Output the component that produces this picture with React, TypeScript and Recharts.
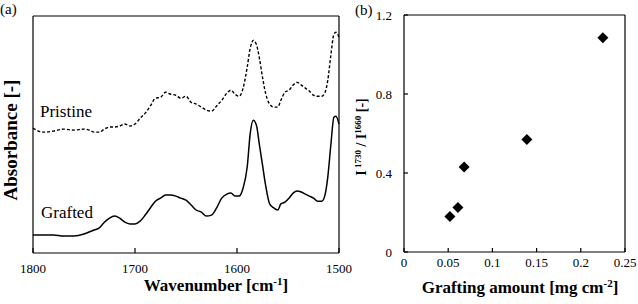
import { Line, LineChart, Scatter, ScatterChart, XAxis, YAxis } from 'recharts'

// (a) FTIR spectra, wavenumber [cm-1] against absorbance (arbitrary offset units)
const wavenumbers = [
  1800, 1790, 1780, 1770, 1760, 1750, 1745, 1740, 1735, 1730, 1725, 1720, 1715, 1710, 1705, 1700,
  1695, 1690, 1685, 1680, 1675, 1670, 1665, 1660, 1655, 1650, 1645, 1640, 1635, 1630, 1625, 1620,
  1615, 1610, 1606, 1602, 1598, 1594, 1590, 1587, 1584, 1581, 1578, 1575, 1572, 1568, 1564, 1560,
  1557, 1553, 1549, 1545, 1541, 1537, 1533, 1529, 1525, 1521, 1517, 1514, 1511, 1508, 1505, 1503, 1500
]
const pristine = [
  3.69, 3.57, 3.6, 3.66, 3.63, 3.66, 3.63, 3.57, 3.57, 3.66, 3.72, 3.72, 3.75, 3.81, 3.75, 3.81,
  3.98, 4.13, 4.34, 4.57, 4.6, 4.75, 4.69, 4.66, 4.57, 4.63, 4.45, 4.4, 4.31, 4.22, 4.19, 4.34,
  4.51, 4.72, 4.81, 4.69, 4.63, 4.87, 5.49, 6.05, 6.28, 6.16, 5.75, 5.19, 4.72, 4.4, 4.31, 4.31,
  4.51, 4.75, 4.81, 4.96, 5.04, 4.96, 4.87, 4.78, 4.66, 4.63, 4.63, 4.72, 5.1, 5.84, 6.46, 6.52, 6.37
]
const grafted = [
  0.53, 0.53, 0.53, 0.5, 0.5, 0.56, 0.62, 0.68, 0.74, 0.91, 1.03, 1.09, 1.03, 0.91, 0.86, 0.86,
  0.94, 1.12, 1.33, 1.53, 1.62, 1.71, 1.71, 1.68, 1.62, 1.56, 1.42, 1.27, 1.21, 1.09, 1.12, 1.33,
  1.62, 1.74, 1.77, 1.68, 1.68, 1.92, 2.54, 3.54, 3.92, 3.78, 3.19, 2.6, 2.01, 1.45, 1.33, 1.27,
  1.45, 1.5, 1.62, 1.77, 1.83, 1.8, 1.74, 1.68, 1.62, 1.53, 1.53, 1.68, 2.24, 3.19, 4.01, 4.04, 3.81
]
const wnTicks = [1800, 1700, 1600, 1500]
const absTicks = [0, 1, 2, 3, 4, 5, 6, 7]

// (b) peak intensity ratio against grafting amount
const graftingAmount = [0.052, 0.061, 0.068, 0.139, 0.225]
const intensityRatio = [0.18, 0.225, 0.43, 0.57, 1.085]
const amountTicks = [0, 0.05, 0.1, 0.15, 0.2, 0.25]
const ratioTicks = [0, 0.4, 0.8, 1.2]

const font = '"Liberation Serif", "Times New Roman", serif'
const axisStyle = { stroke: '#000', strokeWidth: 1.2 }
const tickStyle = { fill: '#000', fontSize: 13, fontFamily: font }

const spectra = wavenumbers.map((wn, i) => ({ wn, pristine: pristine[i], grafted: grafted[i] }))
const points = graftingAmount.map((x, i) => ({ x, y: intensityRatio[i] }))

const Diamond = (props: any) => {
  const { cx, cy } = props
  const r = 5.5
  return <polygon points={`${cx},${cy - r} ${cx + r},${cy} ${cx},${cy + r} ${cx - r},${cy}`} fill="#000" />
}

export default function App() {
  return (
    <div style={{ position: 'absolute', left: 0, top: 0, width: 638, height: 304, background: '#fff', fontFamily: font }}>
      <div style={{ position: 'absolute', left: 0, top: 0 }}>
        <LineChart width={360} height={304} data={spectra} margin={{ top: 15, right: 20, left: 32, bottom: 0 }}>
          <XAxis
            dataKey="wn"
            type="number"
            domain={[1500, 1800]}
            ticks={wnTicks}
            reversed
            height={51}
            tickSize={-5}
            tickMargin={16}
            axisLine={axisStyle}
            tickLine={axisStyle}
            tick={tickStyle}
          />
          <XAxis xAxisId="top" orientation="top" height={1} tick={false} tickLine={false} axisLine={axisStyle} />
          <YAxis
            type="number"
            domain={[0, 7]}
            ticks={absTicks}
            width={1}
            tick={false}
            tickSize={-5}
            axisLine={axisStyle}
            tickLine={axisStyle}
          />
          <YAxis yAxisId="right" orientation="right" width={1} tick={false} tickLine={false} axisLine={axisStyle} />
          <Line dataKey="pristine" type="monotone" stroke="#000" strokeWidth={1.4} strokeDasharray="3 2" dot={false} isAnimationActive={false} />
          <Line dataKey="grafted" type="monotone" stroke="#000" strokeWidth={1.5} dot={false} isAnimationActive={false} />
          <text x={0} y={14} fontSize={15} fontFamily={font}>(a)</text>
          <text x={40} y={117} fontSize={17} fontFamily={font}>Pristine</text>
          <text x={41} y={218} fontSize={17} fontFamily={font}>Grafted</text>
          <text x={216} y={291} fontSize={17} fontWeight="bold" textAnchor="middle" fontFamily={font}>
            Wavenumber [cm<tspan dy={-6} fontSize={11}>-1</tspan><tspan dy={6}>]</tspan>
          </text>
          <text x={17} y={140} fontSize={19} fontWeight="bold" textAnchor="middle" fontFamily={font} transform="rotate(-90 17 140)">
            Absorbance [-]
          </text>
        </LineChart>
      </div>
      <div style={{ position: 'absolute', left: 340, top: 0 }}>
        <ScatterChart width={298} height={304} margin={{ top: 14, right: 12, left: 63, bottom: 0 }}>
          <XAxis
            dataKey="x"
            type="number"
            domain={[0, 0.25]}
            ticks={amountTicks}
            height={52}
            tickSize={-4}
            tickMargin={10}
            axisLine={axisStyle}
            tickLine={axisStyle}
            tick={tickStyle}
          />
          <XAxis xAxisId="top" orientation="top" height={1} tick={false} tickLine={false} axisLine={axisStyle} />
          <YAxis
            dataKey="y"
            type="number"
            domain={[0, 1.2]}
            ticks={ratioTicks}
            width={1}
            tickSize={-4}
            tickMargin={16}
            axisLine={axisStyle}
            tickLine={axisStyle}
            tick={tickStyle}
          />
          <YAxis yAxisId="right" orientation="right" width={1} tick={false} tickLine={false} axisLine={axisStyle} />
          <Scatter data={points} shape={<Diamond />} isAnimationActive={false} />
          <text x={15} y={15} fontSize={15} fontFamily={font}>(b)</text>
          <text x={180} y={293} fontSize={17} fontWeight="bold" textAnchor="middle" fontFamily={font}>
            Grafting amount [mg cm<tspan dy={-6} fontSize={11}>-2</tspan><tspan dy={6}>]</tspan>
          </text>
          <text x={26} y={137} fontSize={14} fontWeight="bold" textAnchor="middle" fontFamily={font} transform="rotate(-90 26 137)">
            I<tspan dy={-5} fontSize={9}> 1730</tspan><tspan dy={5}> / I</tspan><tspan dy={-5} fontSize={9}>1660</tspan><tspan dy={5}> [-]</tspan>
          </text>
        </ScatterChart>
      </div>
    </div>
  )
}
